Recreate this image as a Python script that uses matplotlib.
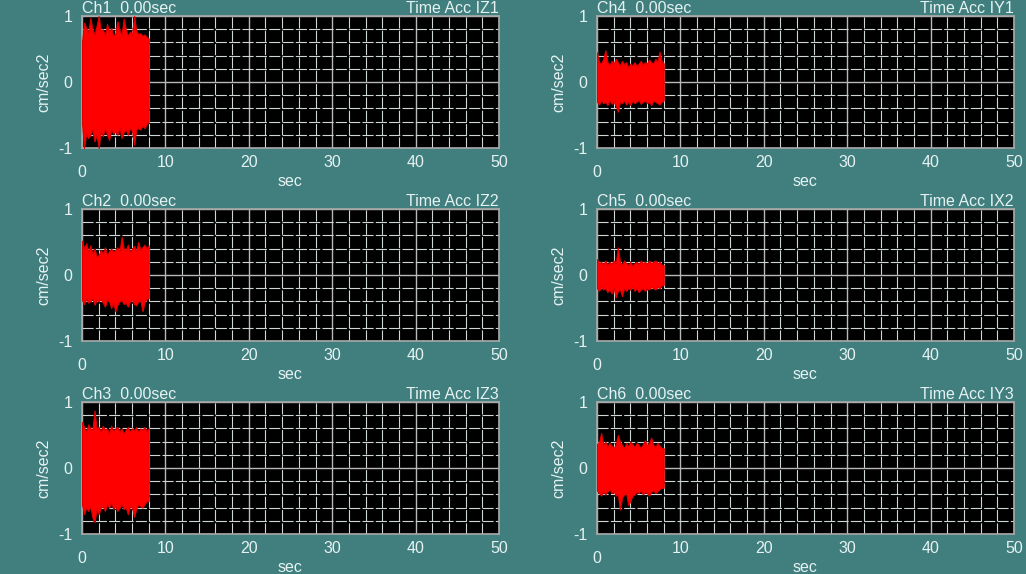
'''
Six-channel time acceleration records (envelopes read off the screen)
'''
import numpy as np
import matplotlib
matplotlib.use('Agg')
from matplotlib import pyplot as plt
from matplotlib.ticker import MultipleLocator
import matplotlib.transforms as mtransforms

# sample times of the envelope readings (sec)
t = np.linspace(0, 8, 33)

channels = ['Ch1', 'Ch2', 'Ch3', 'Ch4', 'Ch5', 'Ch6']
names = ['Time Acc IZ1', 'Time Acc IZ2', 'Time Acc IZ3',
         'Time Acc IY1', 'Time Acc IX2', 'Time Acc IY3']

upper = {
    'Ch1': [0.6, 0.9, 0.82, 0.75, 0.97, 0.8, 0.72, 0.85, 1.0, 0.78, 0.8, 0.7, 0.88, 0.76, 0.82, 0.7, 0.74,
            0.92, 0.78, 0.72, 0.96, 0.8, 0.7, 0.76, 0.72, 1.0, 0.78, 0.72, 0.74, 0.7, 0.72, 0.68, 0.66],
    'Ch2': [0.52, 0.4, 0.48, 0.35, 0.45, 0.32, 0.4, 0.28, 0.3, 0.38, 0.33, 0.42, 0.3, 0.36, 0.4, 0.35, 0.38,
            0.42, 0.36, 0.58, 0.4, 0.38, 0.46, 0.35, 0.4, 0.44, 0.36, 0.5, 0.38, 0.42, 0.46, 0.4, 0.45],
    'Ch3': [0.7, 0.62, 0.55, 0.66, 0.6, 0.58, 0.87, 0.6, 0.62, 0.55, 0.64, 0.58, 0.6, 0.52, 0.64, 0.56, 0.6,
            0.62, 0.55, 0.6, 0.52, 0.58, 0.62, 0.55, 0.6, 0.57, 0.62, 0.55, 0.6, 0.58, 0.62, 0.56, 0.6],
    'Ch4': [0.45, 0.3, 0.28, 0.35, 0.48, 0.3, 0.26, 0.32, 0.28, 0.35, 0.3, 0.25, 0.32, 0.27, 0.3, 0.22, 0.28,
            0.25, 0.3, 0.24, 0.28, 0.32, 0.26, 0.3, 0.28, 0.34, 0.3, 0.28, 0.35, 0.3, 0.46, 0.32, 0.28],
    'Ch5': [0.24, 0.18, 0.2, 0.16, 0.22, 0.15, 0.2, 0.17, 0.22, 0.18, 0.42, 0.2, 0.16, 0.22, 0.18, 0.15, 0.2,
            0.14, 0.18, 0.2, 0.16, 0.22, 0.18, 0.2, 0.16, 0.22, 0.18, 0.2, 0.22, 0.18, 0.2, 0.16, 0.15],
    'Ch6': [0.36, 0.4, 0.53, 0.35, 0.4, 0.32, 0.38, 0.34, 0.3, 0.36, 0.5, 0.4, 0.35, 0.3, 0.38, 0.33, 0.4,
            0.36, 0.32, 0.38, 0.35, 0.3, 0.36, 0.42, 0.34, 0.38, 0.46, 0.35, 0.32, 0.38, 0.34, 0.3, 0.3],
}
lower = {
    'Ch1': [-0.62, -1.0, -0.78, -0.85, -0.8, -0.72, -0.9, -0.8, -1.0, -0.75, -0.82, -0.7, -0.8, -0.88, -0.72,
            -0.78, -0.75, -0.8, -0.7, -0.85, -0.76, -0.72, -0.8, -0.7, -0.74, -0.95, -0.72, -0.7, -0.72, -0.66,
            -0.7, -0.64, -0.6],
    'Ch2': [-0.38, -0.44, -0.36, -0.42, -0.4, -0.35, -0.45, -0.38, -0.4, -0.36, -0.42, -0.48, -0.38, -0.4,
            -0.5, -0.42, -0.55, -0.45, -0.4, -0.38, -0.44, -0.42, -0.48, -0.4, -0.38, -0.44, -0.46, -0.4, -0.38,
            -0.55, -0.42, -0.36, -0.35],
    'Ch3': [-0.55, -0.7, -0.6, -0.65, -0.58, -0.75, -0.82, -0.62, -0.7, -0.6, -0.58, -0.65, -0.55, -0.6,
            -0.52, -0.62, -0.58, -0.65, -0.6, -0.55, -0.62, -0.6, -0.7, -0.58, -0.6, -0.74, -0.62, -0.55, -0.58,
            -0.6, -0.55, -0.5, -0.5],
    'Ch4': [-0.3, -0.34, -0.28, -0.32, -0.3, -0.35, -0.28, -0.33, -0.3, -0.36, -0.45, -0.3, -0.32, -0.28,
            -0.34, -0.3, -0.35, -0.28, -0.32, -0.3, -0.27, -0.33, -0.3, -0.28, -0.32, -0.3, -0.35, -0.28, -0.3,
            -0.32, -0.34, -0.3, -0.28],
    'Ch5': [-0.2, -0.24, -0.18, -0.22, -0.2, -0.26, -0.22, -0.28, -0.2, -0.34, -0.24, -0.22, -0.32, -0.2,
            -0.24, -0.2, -0.22, -0.18, -0.24, -0.2, -0.26, -0.22, -0.2, -0.24, -0.2, -0.22, -0.18, -0.2, -0.22,
            -0.18, -0.2, -0.16, -0.15],
    'Ch6': [-0.34, -0.38, -0.42, -0.35, -0.4, -0.36, -0.32, -0.38, -0.35, -0.42, -0.4, -0.63, -0.45, -0.4,
            -0.38, -0.56, -0.5, -0.42, -0.4, -0.36, -0.38, -0.34, -0.4, -0.36, -0.38, -0.42, -0.36, -0.34, -0.38,
            -0.35, -0.32, -0.3, -0.3],
}

bg = '#417f7f'
fg = '#e6f2f2'
fs = 11.5
plt.rcParams['font.family'] = ['Liberation Sans', 'DejaVu Sans']
plt.rcParams['font.size'] = fs

fig = plt.figure(figsize=(10.26, 5.74), dpi=100, facecolor=bg)
W, H = 1026, 574
lefts = [82, 597]
tops = [16, 209, 402]
aw, ah = 417, 132

for k, ch in enumerate(channels):
    col, row = k // 3, k % 3
    ax = fig.add_axes([lefts[col] / W, 1 - (tops[row] + ah) / H, aw / W, ah / H])
    ax.set_facecolor('black')
    ax.set_xlim(0, 50)
    ax.set_ylim(-1, 1)
    ax.xaxis.set_major_locator(MultipleLocator(10))
    ax.xaxis.set_minor_locator(MultipleLocator(2))
    ax.yaxis.set_major_locator(MultipleLocator(1))
    ax.yaxis.set_minor_locator(MultipleLocator(0.2))
    ax.grid(which='major', color='#b8b8b8', lw=1.0, ls='-')
    ax.grid(which='minor', color='#cfd6d6', lw=0.8, ls=(0, (10, 2)))
    ax.set_axisbelow(True)
    for s in ax.spines.values():
        s.set_color('#a8a8a8')
        s.set_linewidth(1.2)
    ax.tick_params(which='both', length=0, colors=fg, labelsize=fs)
    ax.tick_params(axis='x', pad=5)
    ax.tick_params(axis='y', pad=7)

    ax.fill_between(t, lower[ch], upper[ch], color='red', lw=0.8, edgecolor='#e00000', zorder=3)

    ax.set_yticks([-1, 0, 1])
    ax.set_yticklabels(['-1', '0', '1'])
    ax.set_xticks([0, 10, 20, 30, 40, 50])
    # the 0 label sits a little lower than the rest
    lbl0 = ax.xaxis.get_major_ticks()[0].label1
    lbl0.set_transform(lbl0.get_transform() + mtransforms.ScaledTranslation(0, -7 / 72, fig.dpi_scale_trans))

    ax.set_xlabel('sec', color=fg, labelpad=-4)
    ax.set_ylabel('cm/sec2', color=fg, labelpad=5)
    ax.set_title(f'{ch}  0.00sec', loc='left', color=fg, fontsize=fs, pad=1)
    ax.set_title(names[k], loc='right', color=fg, fontsize=fs, pad=1)

fig.savefig('out.png', dpi=100, facecolor=bg)
